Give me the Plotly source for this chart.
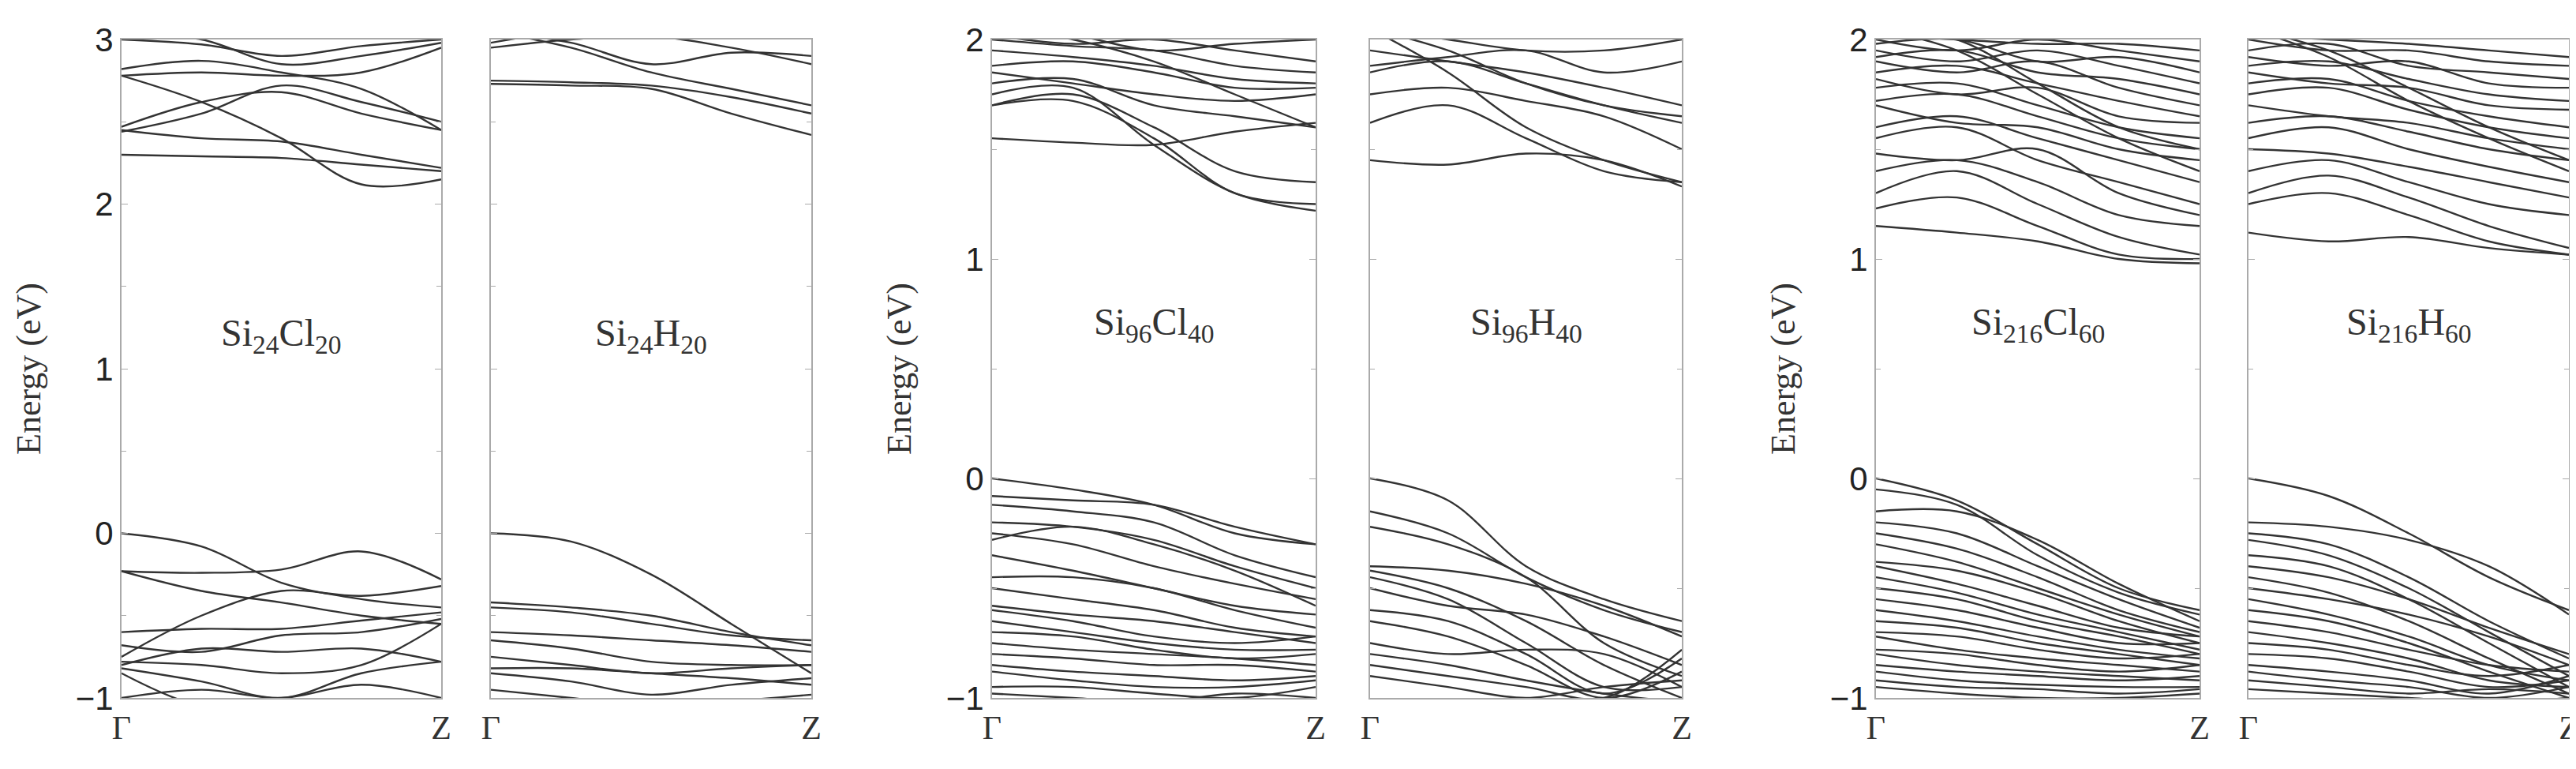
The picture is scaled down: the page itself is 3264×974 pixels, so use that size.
import plotly.graph_objects as go

# k-points along Gamma -> Z (fractional)
kpts = [0, 0.25, 0.5, 0.75, 1.0]

titles = ["Si<sub>24</sub>Cl<sub>20</sub>", "Si<sub>24</sub>H<sub>20</sub>",
          "Si<sub>96</sub>Cl<sub>40</sub>", "Si<sub>96</sub>H<sub>40</sub>",
          "Si<sub>216</sub>Cl<sub>60</sub>", "Si<sub>216</sub>H<sub>60</sub>"]

# band energies (eV) read at the k-points above
bands_si24cl20 = [
    [2.30, 2.29, 2.28, 2.24, 2.20], [2.45, 2.40, 2.38, 2.30, 2.22],
    [2.44, 2.55, 2.72, 2.62, 2.50], [2.47, 2.62, 2.68, 2.55, 2.45],
    [2.78, 2.62, 2.40, 2.12, 2.15], [2.82, 2.87, 2.80, 2.70, 2.45],
    [2.78, 2.80, 2.78, 2.80, 2.95], [3.00, 2.97, 2.90, 2.96, 3.00],
    [3.03, 3.00, 2.85, 2.90, 2.98],
    [0.00, -0.08, -0.30, -0.40, -0.45], [-0.23, -0.24, -0.22, -0.11, -0.28],
    [-0.23, -0.35, -0.42, -0.50, -0.55], [-0.75, -0.50, -0.35, -0.38, -0.32],
    [-0.60, -0.58, -0.58, -0.53, -0.48], [-0.68, -0.72, -0.62, -0.60, -0.52],
    [-0.80, -0.70, -0.72, -0.70, -0.78], [-0.78, -0.80, -0.85, -0.80, -0.55],
    [-0.82, -0.90, -1.00, -0.85, -0.78], [-0.85, -1.05, -1.05, -1.05, -1.02],
    [-1.00, -0.95, -1.00, -0.92, -1.00],
]
bands_si24h20 = [
    [2.75, 2.74, 2.72, 2.65, 2.55], [2.73, 2.72, 2.70, 2.55, 2.42],
    [3.05, 2.98, 2.85, 2.92, 2.90], [2.95, 3.00, 3.02, 2.95, 2.85],
    [3.05, 2.95, 2.80, 2.70, 2.60], [2.98, 3.05, 3.05, 3.02, 3.05],
    [0.00, -0.05, -0.25, -0.55, -0.85], [-0.42, -0.45, -0.50, -0.60, -0.68],
    [-0.45, -0.48, -0.55, -0.62, -0.65], [-0.60, -0.62, -0.65, -0.68, -0.72],
    [-0.65, -0.70, -0.78, -0.80, -0.80], [-0.82, -0.82, -0.85, -0.88, -0.92],
    [-0.85, -0.90, -0.98, -0.92, -0.88], [-0.75, -0.80, -0.85, -0.82, -0.80],
    [-0.95, -1.00, -1.05, -1.02, -0.98],
]
bands_si96cl40 = [
    [1.55, 1.53, 1.52, 1.58, 1.62], [1.70, 1.75, 1.60, 1.40, 1.35],
    [1.70, 1.72, 1.55, 1.30, 1.25], [1.75, 1.78, 1.52, 1.30, 1.22],
    [1.80, 1.82, 1.70, 1.65, 1.60], [1.85, 1.80, 1.75, 1.72, 1.75],
    [1.88, 1.90, 1.85, 1.78, 1.78], [1.95, 1.92, 1.88, 1.82, 1.80],
    [2.00, 1.97, 1.95, 1.88, 1.85], [2.02, 1.98, 2.00, 1.95, 1.90],
    [2.05, 2.00, 1.90, 1.75, 1.60], [2.05, 2.02, 1.95, 1.98, 2.00],
    [0.00, -0.05, -0.12, -0.25, -0.30], [-0.08, -0.10, -0.12, -0.22, -0.30],
    [-0.12, -0.15, -0.20, -0.35, -0.45], [-0.20, -0.22, -0.28, -0.40, -0.50],
    [-0.25, -0.30, -0.40, -0.48, -0.55], [-0.28, -0.22, -0.30, -0.42, -0.58],
    [-0.35, -0.42, -0.50, -0.58, -0.62], [-0.45, -0.45, -0.50, -0.60, -0.68],
    [-0.50, -0.55, -0.60, -0.68, -0.72], [-0.58, -0.62, -0.65, -0.70, -0.75],
    [-0.60, -0.65, -0.72, -0.75, -0.72], [-0.65, -0.70, -0.75, -0.78, -0.78],
    [-0.70, -0.72, -0.78, -0.82, -0.80], [-0.75, -0.78, -0.80, -0.82, -0.85],
    [-0.80, -0.82, -0.85, -0.85, -0.88], [-0.85, -0.88, -0.90, -0.92, -0.90],
    [-0.88, -0.92, -0.95, -0.95, -0.92], [-0.95, -0.95, -0.98, -1.00, -0.95],
    [-0.98, -1.00, -1.02, -0.98, -1.00],
]
bands_si96h40 = [
    [1.45, 1.43, 1.48, 1.45, 1.33], [1.62, 1.70, 1.55, 1.40, 1.35],
    [1.75, 1.78, 1.72, 1.65, 1.50], [1.85, 1.90, 1.80, 1.70, 1.62],
    [1.88, 1.92, 1.95, 1.85, 1.90], [2.05, 1.85, 1.60, 1.45, 1.35],
    [2.05, 1.95, 1.80, 1.70, 1.65], [2.05, 2.00, 1.95, 1.95, 2.00],
    [1.95, 1.90, 1.85, 1.78, 1.70],
    [0.00, -0.10, -0.40, -0.55, -0.65], [-0.15, -0.25, -0.45, -0.60, -0.70],
    [-0.22, -0.30, -0.45, -0.75, -0.90], [-0.40, -0.42, -0.48, -0.58, -0.72],
    [-0.42, -0.50, -0.65, -0.85, -1.00], [-0.45, -0.55, -0.75, -0.95, -0.95],
    [-0.50, -0.58, -0.62, -0.72, -0.85], [-0.60, -0.65, -0.80, -0.98, -0.82],
    [-0.65, -0.72, -0.85, -1.00, -0.88], [-0.75, -0.80, -0.78, -0.80, -0.95],
    [-0.80, -0.85, -0.92, -0.98, -1.02], [-0.85, -0.90, -0.95, -1.00, -0.78],
    [-0.90, -0.95, -1.00, -0.95, -0.92],
]
bands_si216cl60 = [
    [1.15, 1.12, 1.08, 1.00, 0.98], [1.23, 1.28, 1.15, 1.02, 1.00],
    [1.30, 1.40, 1.25, 1.10, 1.02], [1.40, 1.45, 1.35, 1.20, 1.15],
    [1.48, 1.45, 1.50, 1.30, 1.20], [1.55, 1.60, 1.45, 1.35, 1.25],
    [1.60, 1.65, 1.55, 1.45, 1.35], [1.70, 1.62, 1.60, 1.50, 1.45],
    [1.72, 1.75, 1.65, 1.55, 1.50], [1.78, 1.80, 1.70, 1.60, 1.55],
    [1.82, 1.75, 1.78, 1.65, 1.62], [1.85, 1.88, 1.80, 1.72, 1.65],
    [1.90, 1.85, 1.90, 1.78, 1.70], [1.92, 1.95, 1.85, 1.82, 1.75],
    [1.95, 1.90, 1.95, 1.88, 1.80], [1.98, 2.00, 1.90, 1.92, 1.85],
    [2.00, 1.95, 2.00, 1.95, 1.90], [2.02, 2.00, 1.98, 1.98, 1.95],
    [2.05, 2.00, 1.80, 1.60, 1.50], [2.05, 1.95, 1.75, 1.55, 1.40],
    [0.00, -0.10, -0.30, -0.50, -0.60], [-0.05, -0.12, -0.35, -0.52, -0.62],
    [-0.15, -0.15, -0.28, -0.48, -0.65], [-0.20, -0.25, -0.40, -0.55, -0.68],
    [-0.25, -0.32, -0.45, -0.60, -0.70], [-0.30, -0.38, -0.50, -0.62, -0.72],
    [-0.38, -0.42, -0.52, -0.65, -0.75], [-0.40, -0.48, -0.58, -0.68, -0.72],
    [-0.45, -0.52, -0.62, -0.70, -0.78], [-0.50, -0.55, -0.65, -0.72, -0.80],
    [-0.55, -0.60, -0.68, -0.75, -0.75], [-0.60, -0.65, -0.72, -0.78, -0.82],
    [-0.65, -0.68, -0.75, -0.80, -0.85], [-0.70, -0.72, -0.78, -0.82, -0.80],
    [-0.72, -0.78, -0.82, -0.85, -0.88], [-0.78, -0.80, -0.85, -0.88, -0.85],
    [-0.80, -0.85, -0.88, -0.90, -0.92], [-0.85, -0.88, -0.90, -0.92, -0.90],
    [-0.88, -0.92, -0.94, -0.95, -0.95], [-0.92, -0.95, -0.96, -0.98, -0.96],
    [-0.95, -0.98, -1.00, -1.00, -0.98],
]
bands_si216h60 = [
    [1.12, 1.08, 1.10, 1.05, 1.02], [1.25, 1.30, 1.20, 1.08, 1.02],
    [1.30, 1.38, 1.28, 1.15, 1.05], [1.40, 1.45, 1.35, 1.25, 1.20],
    [1.50, 1.48, 1.42, 1.35, 1.28], [1.55, 1.60, 1.50, 1.42, 1.35],
    [1.62, 1.65, 1.58, 1.50, 1.45], [1.70, 1.65, 1.62, 1.55, 1.50],
    [1.75, 1.78, 1.68, 1.60, 1.55], [1.80, 1.82, 1.72, 1.65, 1.60],
    [1.85, 1.80, 1.78, 1.70, 1.68], [1.88, 1.90, 1.82, 1.75, 1.72],
    [1.92, 1.88, 1.90, 1.80, 1.78], [1.95, 1.98, 1.88, 1.85, 1.82],
    [2.00, 1.95, 1.95, 1.90, 1.88], [2.02, 2.00, 1.98, 1.95, 1.92],
    [2.05, 1.95, 1.78, 1.60, 1.45], [2.05, 1.92, 1.72, 1.55, 1.40],
    [0.00, -0.08, -0.25, -0.45, -0.60], [-0.20, -0.22, -0.28, -0.40, -0.62],
    [-0.25, -0.30, -0.45, -0.65, -0.82], [-0.28, -0.35, -0.50, -0.70, -0.90],
    [-0.35, -0.40, -0.55, -0.75, -0.95], [-0.40, -0.45, -0.55, -0.68, -0.80],
    [-0.45, -0.52, -0.65, -0.82, -0.98], [-0.50, -0.55, -0.62, -0.72, -0.85],
    [-0.55, -0.62, -0.72, -0.85, -0.92], [-0.60, -0.65, -0.75, -0.88, -1.00],
    [-0.65, -0.70, -0.78, -0.85, -0.88], [-0.70, -0.75, -0.82, -0.92, -0.95],
    [-0.75, -0.78, -0.85, -0.90, -0.85], [-0.80, -0.82, -0.88, -0.95, -0.92],
    [-0.85, -0.88, -0.92, -0.98, -0.90], [-0.88, -0.92, -0.95, -1.00, -0.95],
    [-0.92, -0.95, -0.98, -0.96, -0.98], [-0.96, -0.98, -1.00, -1.02, -1.00],
]
all_bands = [bands_si24cl20, bands_si24h20, bands_si96cl40,
             bands_si96h40, bands_si216cl60, bands_si216h60]
yranges = [[-1, 3], [-1, 3], [-1, 2], [-1, 2], [-1, 2], [-1, 2]]
label_y = [1.2, 1.2, 0.7, 0.7, 0.7, 0.7]

W, H = 3264, 974
px = [(146, 551), (614, 1020), (1249, 1659), (1728, 2123), (2369, 2779), (2841, 3247)]
ydom = [(974 - 876) / H, (974 - 42) / H]

fig = go.Figure()
layout = dict(width=W, height=H, margin=dict(l=0, r=0, t=0, b=0),
              paper_bgcolor="white", plot_bgcolor="white", showlegend=False)
annots = []
for i, bands in enumerate(all_bands):
    n = "" if i == 0 else str(i + 1)
    for b in bands:
        fig.add_trace(go.Scatter(x=kpts, y=b, mode="lines", xaxis="x" + n, yaxis="y" + n,
                                 line=dict(color="#333333", width=2.4, shape="spline"),
                                 hoverinfo="skip"))
    lo, hi = yranges[i]
    left = i % 2 == 0
    layout["xaxis" + n] = dict(domain=[px[i][0] / W, px[i][1] / W], range=[0, 1],
                               anchor="y" + n, tickvals=[0, 1], ticktext=["Γ", "Z"],
                               ticks="", showline=True, mirror=True, linecolor="#aaaaaa",
                               linewidth=2, showgrid=False, zeroline=False, automargin=False,
                               tickfont=dict(family="Liberation Serif", size=42, color="#333"))
    layout["yaxis" + n] = dict(domain=ydom, range=[lo, hi], anchor="x" + n,
                               tickvals=list(range(lo, hi + 1)), automargin=False,
                               ticktext=[str(v).replace("-", "\u2212") for v in range(lo, hi + 1)],
                               showticklabels=left, ticks="inside", ticklen=8,
                               tickcolor="#aaaaaa", minor=dict(dtick=0.5, ticks="inside",
                                                                ticklen=6, tickcolor="#aaaaaa"),
                               showline=True, mirror="ticks", linecolor="#aaaaaa", linewidth=2,
                               showgrid=False, zeroline=False,
                               tickfont=dict(family="Liberation Sans", size=42, color="#222"),
                               title=dict(text="Energy (eV)" if left else "",
                                          font=dict(family="Liberation Serif", size=44, color="#333"),
                                          standoff=30))
    annots.append(dict(text=titles[i], x=0.5, y=label_y[i], xref="x" + n, yref="y" + n,
                       showarrow=False,
                       font=dict(family="Liberation Serif", size=48, color="#333")))
layout["annotations"] = annots
fig.update_layout(**layout)
fig.write_html("out.html")
